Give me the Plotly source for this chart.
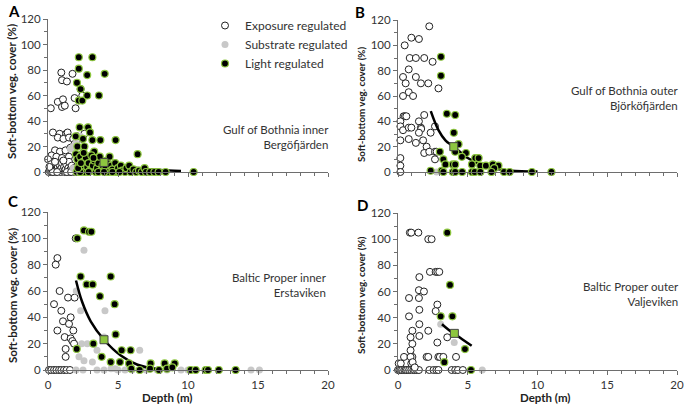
import plotly.graph_objects as go

# ---------------- DATA ----------------
# Panel A – Gulf of Bothnia inner, Bergöfjärden
a_exp_x = [0.2,0.95,1.0,1.35,1.75,0.7,1.07,1.0,1.2,1.9,1.97,2.33,2.45,
           0.35,0.83,1.3,1.4,0.7,1.1,1.5,1.8,2.1,2.3,2.6,0.5,0.85,1.25,1.6,0.25,0.6,1.0,1.5,0.0,1.9,2.5,
           0.05,0.15,0.25,0.3,0.4,0.45,0.55,0.6,0.7,0.75,0.8,0.9,0.95,1.0,1.05,1.15,1.2,1.25,1.3,1.4,1.45,
           1.5,1.55,1.6,1.7,1.75,1.85,1.9,2.0,0.2,0.5,1.1,0.35,0.65,1.35,1.65,0.1,2.1,2.2]
a_exp_y = [50,78,72,71,77,55,57,51,52,58,50,65,60,
           31,30,30,31,27,26,27,26,28,21,30,17,16,17,19,13,12,11,12,10,22,15,
           0,1,0,3,1,5,0,2,4,1,6,0,3,7,1,4,0,2,6,1,3,
           8,0,2,5,1,3,0,2,6,8,9,0,0,0,0,4,5,1]
a_sub_x = [1.8,2.0,1.6,2.2,2.6,3.0,3.3,2.4,2.8,3.5,4.4,2.0,1.8,2.5,3.8,2.3]
a_sub_y = [20,23,18,8,3,10,14,0,0,4,6,0,3,12,2,28]
a_lig_x = [2.2,3.17,2.2,2.8,4.05,2.07,2.33,2.2,2.45,2.8,3.64,2.26,2.86,3.0,1.98,2.5,3.17,3.74,4.83,2.1,2.6,3.3,6.4,
           2.0,2.1,2.2,2.3,2.4,2.5,2.6,2.7,2.8,2.9,3.0,3.1,3.2,3.3,3.4,3.5,3.6,3.7,3.8,3.9,4.1,4.2,4.3,4.5,4.6,
           4.8,4.9,5.0,5.2,5.3,5.5,5.6,5.8,5.9,6.1,6.3,6.5,6.7,6.9,7.0,7.3,7.6,7.9,8.4,10.4,
           2.05,2.3,2.9,3.6,4.0,4.6,5.1,2.15,2.55,3.25,4.4,2.35]
a_lig_y = [90,90,81,76,77,70,65,56,56,60,60,35,35,31,28,26,25,25,25,20,20,16,14,
           14,10,5,12,2,8,0,11,4,7,1,13,5,9,0,3,7,12,1,5,3,9,0,5,2,
           7,0,3,5,1,0,3,5,0,2,0,1,0,3,0,0,0,0,0,0,
           0,0,0,0,0,0,0,3,15,11,12,7]
a_mean_x = [4.0]
a_mean_y = [7.5]
a_fit_x = [2.0,3.0,4.0,5.0,6.0,7.0,8.0,9.5]
a_fit_y = [15,10.5,7.5,5.2,3.6,2.5,1.6,0.8]

# Panel B – Gulf of Bothnia outer, Björköfjärden
b_exp_x = [2.24,0.48,0.96,1.5,0.84,1.28,1.88,2.48,0.77,0.36,1.28,0.55,1.64,2.17,2.9,0.77,0.36,1.08,
           0.4,0.5,0.6,0.17,1.5,1.88,0.17,0.36,0.77,0.96,1.64,1.66,1.5,2.34,2.65,0.17,0.77,1.28,1.8,2.05,
           1.88,2.24,2.65,2.77,2.65,0.17,0.17,0.17]
b_exp_y = [115,100,106,105,90,90,90,87,81,75,75,70,70,70,66,63,60,60,
           44,44,44,40,40,45,36,33,35,35,35,34,31,31,36,25,26,23,25,20,
           15,16,16,16,10,11,5,0]
b_sub_x = [2.77]
b_sub_y = [0]
b_lig_x = [3.08,3.08,3.5,4.1,4.0,4.34,4.1,4.87,4.58,3.0,3.25,3.4,3.93,5.54,5.78,5.3,5.9,6.3,6.8,7.2,
           6.9,2.34,3.13,3.25,3.93,4.1,4.6,5.3,5.5,5.9,6.7,7.6,8.0,9.6,11.0,4.1]
b_lig_y = [91,76,46,45,31,22,16,15,12,16,10,6,6,11,11,6,5,5,6,5,
           3,1,1,0,0,0,0,0,0,0,0,0,0,0,0,6]
b_mean_x = [4.0]
b_mean_y = [20]
b_fit_x = [2.35,2.9,3.4,4.0,5.0,6.0,7.0,8.1,10.0]
b_fit_y = [48,33,25,20,11,5.5,2.5,1.0,0.3]

# Panel C – Baltic Proper inner, Erstaviken
c_exp_x = [1.98,0.67,0.55,0.83,0.43,0.95,1.43,1.9,0.67,1.07,1.5,1.62,1.81,1.19,1.62,1.74,1.86,1.26,1.26,
           0.07,0.24,0.43,0.6,0.79,0.95,1.14,1.33,1.57]
c_exp_y = [100,85,80,60,50,45,55,55,30,37,35,40,30,25,24,22,20,16,10,
           0,0,0,0,0,0,0,0,0]
c_sub_x = [2.57,2.02,2.33,4.07,2.4,2.81,3.5,4.0,2.21,2.57,3.17,6.55,4.5,4.8,
           2.0,2.5,3.5,4.0,5.0,5.5,6.0,7.0,7.8,8.5,9.5,10.0,14.5,15.1]
c_sub_y = [91,60,45,45,20,20,15,25,10,7,6,15,1,1,
           0,0,0,0,0,0,0,0,0,0,0,0,0,0]
c_lig_x = [2.57,2.93,3.1,2.1,2.33,2.76,3.19,4.48,3.71,4.76,4.83,3.24,2.05,3.83,4.48,5.26,5.9,5.14,5.79,
           5.95,6.55,7.33,8.33,9.05,7.29,7.93,8.5,8.88,10.19,10.55,11.26,11.43,12.2,13.4]
c_lig_y = [106,105,105,100,71,65,65,71,56,50,27,20,16,10,6,15,15,6,5,
           1,0,5,5,5,1,0,1,2,0,0,0,0,0,0]
c_mean_x = [4.0]
c_mean_y = [23]
c_fit_x = [2.0,2.43,3.05,4.0,5.2,6.4,7.8]
c_fit_y = [68,52,37,23,11,4,0.8]

# Panel D – Baltic Proper outer, Valjeviken
d_exp_x = [0.85,0.95,1.46,2.17,2.41,2.29,2.7,2.82,2.96,1.53,1.5,1.86,0.79,1.5,2.82,2.7,1.53,0.79,1.53,2.17,
           1.03,0.9,1.53,3.53,1.03,2.82,0.9,0.43,1.03,0.9,2.05,2.17,2.89,3.0,3.25,4.16,0.95,1.05,0.05,0.2,
           0.0,0.1,0.2,0.3,0.45,0.55,0.65,0.8,0.95,1.1,1.2,1.35,1.5,1.2,2.25,2.55,2.75,2.9,3.85,4.1,4.3,4.65]
d_exp_y = [105,105,105,100,100,75,75,75,75,71,61,60,55,55,50,45,46,41,35,30,
           30,25,26,25,20,21,15,10,10,10,10,10,10,10,10,10,5,6,5,5,
           0,0,0,0,0,0,0,0,0,0,0,0,0,2,0,0,0,0,0,0,0,0]
d_sub_x = [3.06,4.03,6.04]
d_sub_y = [35,21,0]
d_lig_x = [3.53,3.73,3.06,3.9,4.8,3.32,5.23]
d_lig_y = [105,65,41,41,16,6,0]
d_mean_x = [4.04]
d_mean_y = [28]
d_fit_x = [3.15,3.6,4.0,4.6,5.28]
d_fit_y = [35,31,28,23.5,18.5]

panel_letters = ["A", "B", "C", "D"]
region_names = ["Gulf of Bothnia inner<br>Bergöfjärden", "Gulf of Bothnia outer<br>Björköfjärden",
                "Baltic Proper inner<br>Erstaviken", "Baltic Proper outer<br>Valjeviken"]
y_ticks = [0, 20, 40, 60, 80, 100, 120]
x_ticks = [0, 5, 10, 15, 20]
legend_names = ["Exposure regulated", "Substrate regulated", "Light regulated"]

# ---------------- STYLE ----------------
W, H = 685, 407
FONT = "Lato, 'Open Sans', sans-serif"
GREEN = "#8dc63f"
AX = "#6e6e6e"

def px2x(p): return p / W
def px2y(p): return 1 - p / H

domains = [
    ([px2x(48), px2x(328)], [px2y(172), px2y(19)]),
    ([px2x(398), px2x(677)], [px2y(172), px2y(20)]),
    ([px2x(48), px2x(328)], [px2y(370), px2y(212)]),
    ([px2x(398), px2x(677)], [px2y(370), px2y(213)]),
]

panels = [
    (a_exp_x, a_exp_y, a_sub_x, a_sub_y, a_lig_x, a_lig_y, a_mean_x, a_mean_y, a_fit_x, a_fit_y),
    (b_exp_x, b_exp_y, b_sub_x, b_sub_y, b_lig_x, b_lig_y, b_mean_x, b_mean_y, b_fit_x, b_fit_y),
    (c_exp_x, c_exp_y, c_sub_x, c_sub_y, c_lig_x, c_lig_y, c_mean_x, c_mean_y, c_fit_x, c_fit_y),
    (d_exp_x, d_exp_y, d_sub_x, d_sub_y, d_lig_x, d_lig_y, d_mean_x, d_mean_y, d_fit_x, d_fit_y),
]

fig = go.Figure()
layout = dict(template="none", width=W, height=H, margin=dict(l=0, r=0, t=0, b=0, pad=0, autoexpand=False),
              paper_bgcolor="white", plot_bgcolor="white",
              font=dict(family=FONT, size=11.5, color="#333333"))

annotations = []
for i, (ex, ey, sx, sy, lx, ly, mx, my, fx, fy) in enumerate(panels):
    n = "" if i == 0 else str(i + 1)
    xa, ya = "x" + n, "y" + n
    first = (i == 0)
    fig.add_trace(go.Scatter(x=ex, y=ey, xaxis=xa, yaxis=ya, mode="markers", name=legend_names[0],
                             showlegend=first, cliponaxis=False,
                             marker=dict(symbol="circle", size=7, color="white",
                                         line=dict(color="#222222", width=1))))
    fig.add_trace(go.Scatter(x=sx, y=sy, xaxis=xa, yaxis=ya, mode="markers", name=legend_names[1],
                             showlegend=first, cliponaxis=False,
                             marker=dict(symbol="circle", size=7, color="#c8c8c8",
                                         line=dict(color="#c8c8c8", width=0))))
    fig.add_trace(go.Scatter(x=fx, y=fy, xaxis=xa, yaxis=ya, mode="lines", showlegend=False,
                             line=dict(color="black", width=2.5, shape="spline"), cliponaxis=False))
    fig.add_trace(go.Scatter(x=lx, y=ly, xaxis=xa, yaxis=ya, mode="markers", name=legend_names[2],
                             showlegend=first, cliponaxis=False,
                             marker=dict(symbol="circle", size=7, color="black",
                                         line=dict(color=GREEN, width=1.2))))
    fig.add_trace(go.Scatter(x=mx, y=my, xaxis=xa, yaxis=ya, mode="markers", showlegend=False,
                             cliponaxis=False,
                             marker=dict(symbol="square", size=8, color=GREEN,
                                         line=dict(color="#444444", width=1))))
    bottom = i >= 2
    layout["xaxis" + n] = dict(domain=domains[i][0], range=[0, 20], anchor=ya, automargin=False,
                               showgrid=False, zeroline=False, showline=True, linecolor=AX, linewidth=1,
                               ticks="outside", ticklen=4, tickcolor=AX, tickvals=x_ticks,
                               showticklabels=bottom,
                               minor=dict(ticks="outside", dtick=1, ticklen=3, tickcolor=AX, showgrid=False),
                               tickfont=dict(size=11.5, color="#333333", family=FONT))
    layout["yaxis" + n] = dict(domain=domains[i][1], range=[0, 120], anchor=xa, automargin=False,
                               showgrid=False, zeroline=False, showline=True, linecolor=AX, linewidth=1,
                               ticks="outside", ticklen=4, tickcolor=AX, tickvals=y_ticks,
                               minor=dict(ticks="outside", dtick=10, ticklen=3, tickcolor=AX, showgrid=False),
                               tickfont=dict(size=11.5, color="#333333", family=FONT))

# panel letters
letter_pos = [(14, 11), (360, 12), (13, 201), (362, 205)]
for L, (lx_, ly_) in zip(panel_letters, letter_pos):
    annotations.append(dict(text="<b>%s</b>" % L, x=px2x(lx_), y=px2y(ly_), xref="paper", yref="paper",
                            showarrow=False, xanchor="center", yanchor="middle",
                            font=dict(size=15, color="black", family=FONT)))
# region labels
region_pos = [(331, 137), (681, 98), (329, 285), (681, 294)]
for t, (rx, ry) in zip(region_names, region_pos):
    annotations.append(dict(text=t, x=px2x(rx), y=px2y(ry), xref="paper", yref="paper",
                            showarrow=False, xanchor="right", yanchor="middle", align="right",
                            font=dict(size=11.5, color="#333333", family=FONT)))
# y-axis titles
ytitle_pos = [(12, 92, 11.5), (361, 104, 9.8), (12, 296, 11.5), (361, 295, 10)]
for (tx, ty, fs) in ytitle_pos:
    annotations.append(dict(text="<b>Soft-bottom veg. cover (%)</b>", x=px2x(tx), y=px2y(ty),
                            xref="paper", yref="paper", showarrow=False, textangle=-90,
                            xanchor="center", yanchor="middle",
                            font=dict(size=fs, color="#222222", family=FONT)))
# x-axis titles
for (tx, ty) in [(167, 397), (545, 397)]:
    annotations.append(dict(text="<b>Depth (m)</b>", x=px2x(tx), y=px2y(ty), xref="paper", yref="paper",
                            showarrow=False, xanchor="center", yanchor="middle",
                            font=dict(size=11.5, color="#222222", family=FONT)))

layout["annotations"] = annotations
layout["showlegend"] = True
layout["legend"] = dict(x=px2x(205), y=px2y(11), xanchor="left", yanchor="top",
                        bgcolor="rgba(0,0,0,0)", borderwidth=0,
                        font=dict(size=12, color="#333333", family=FONT),
                        tracegroupgap=0, itemwidth=30)
fig.update_layout(**layout)
fig.write_html("out.html", config={"displayModeBar": False},
               post_script="document.body.style.margin='0';document.body.style.overflow='hidden';")
